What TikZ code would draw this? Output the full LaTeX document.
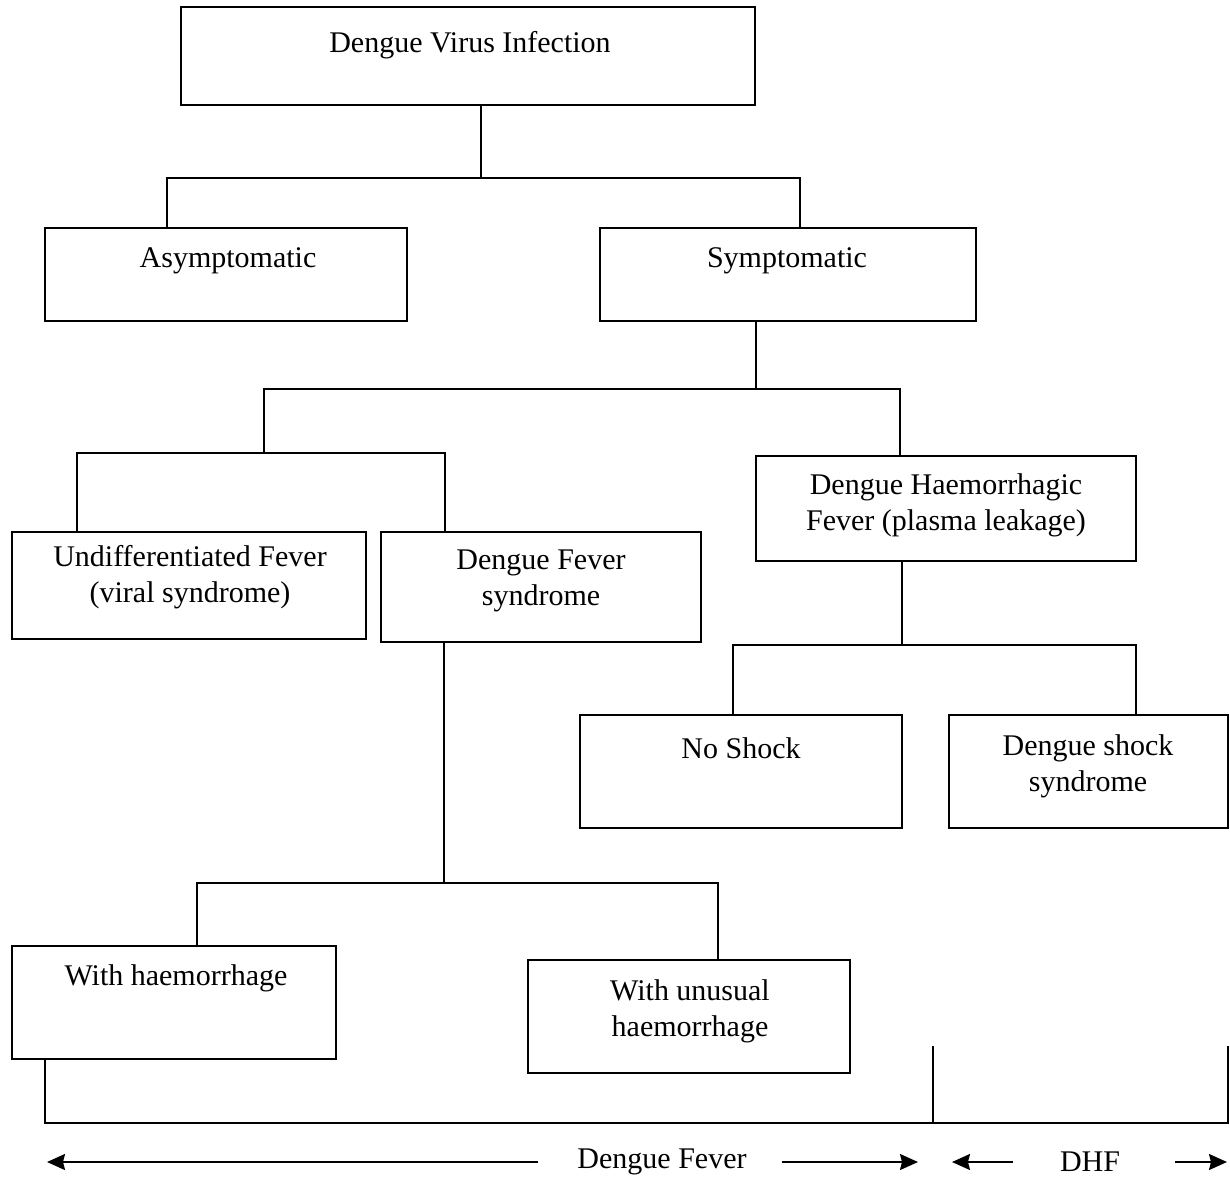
\documentclass[tikz,border=0pt]{standalone}
\usepackage{fontspec}
\setmainfont{Liberation Serif}
\usetikzlibrary{fit,arrows.meta}

\tikzset{
  box/.style={draw, line width=0.9pt, inner sep=0pt},
  txt/.style={align=center, font=\fontsize{15}{18}\selectfont},
  link/.style={line width=0.9pt},
  arr/.style={line width=0.9pt, -{Stealth[length=9pt,width=8pt,inset=1pt]}}
}

\begin{document}
\begin{tikzpicture}[x=0.5pt, y=-0.5pt]
				\useasboundingbox (0,0) rectangle (1230,1181);
				
				% boxes
				\node[box, fit={(181,7) (755,105)}] (dvi) {};
				\node[box, fit={(45,228) (407,321)}] (asym) {};
				\node[box, fit={(600,228) (976,321)}] (sym) {};
				\node[box, fit={(12,532) (366,639)}] (undiff) {};
				\node[box, fit={(381,532) (701,642)}] (dfs) {};
				\node[box, fit={(756,456) (1136,561)}] (dhf) {};
				\node[box, fit={(580,715) (902,828)}] (noshock) {};
				\node[box, fit={(949,715) (1228,828)}] (dss) {};
				\node[box, fit={(12,946) (336,1059)}] (withh) {};
				\node[box, fit={(528,960) (850,1073)}] (withu) {};
				
				% texts
				\node[txt] (dvitxt) at (470,45) {Dengue Virus Infection};
				\node[txt] (asymtxt) at (228,261) {Asymptomatic};
				\node[txt] (symtxt) at (787,261) {Symptomatic};
				\node[txt] (undifftxt) at (190,577) {Undifferentiated Fever\\(viral syndrome)};
				\node[txt] (dfstxt) at (541,581) {Dengue Fever\\syndrome};
				\node[txt] (dhftxt) at (946,505) {Dengue Haemorrhagic\\Fever (plasma leakage)};
				\node[txt] (noshocktxt) at (741,748) {No Shock};
				\node[txt] (dsstxt) at (1088,766) {Dengue shock\\syndrome};
				\node[txt] (withhtxt) at (176,978) {With haemorrhage};
				\node[txt] (withutxt) at (690,1011) {With unusual\\haemorrhage};
				
				% tree lines
				\draw[link] (481,0 |- dvi.south) -- (481,178);
				\draw[link] (167,0 |- asym.north) |- (800,178) -- (800,0 |- sym.north);
				\draw[link] (756,0 |- sym.south) -- (756,389);
				\draw[link] (264,453) |- (900,389) -- (900,0 |- dhf.north);
				\draw[link] (77,0 |- undiff.north) |- (445,453) -- (445,0 |- dfs.north);
				\draw[link] (902,0 |- dhf.south) -- (902,645);
				\draw[link] (733,0 |- noshock.north) |- (1136,645) -- (1136,0 |- dss.north);
				\draw[link] (444,0 |- dfs.south) -- (444,883);
				\draw[link] (197,0 |- withh.north) |- (718,883) -- (718,0 |- withu.north);
				
				% bottom bracket
				\draw[link] (45,0 |- withh.south) |- (1228,1123) -- (1228,1046);
				\draw[link] (933,1046) -- (933,1123);
				
				% range arrows
				\node[txt] (dflab) at (662,1162) {Dengue Fever};
				\node[txt] (dhflab) at (1090,1162) {DHF};
				\coordinate (dfL) at (47,1162);
				\coordinate (dfR) at (918,1162);
				\coordinate (dhfL) at (952,1162);
				\coordinate (dhfR) at (1227,1162);
				\draw[arr] ([xshift=-16pt]dflab.west) -- (dfL);
				\draw[arr] ([xshift=14pt]dflab.east) -- (dfR);
				\draw[arr] ([xshift=-20pt]dhflab.west) -- (dhfL);
				\draw[arr] ([xshift=24pt]dhflab.east) -- (dhfR);
			\end{tikzpicture}
\end{document}
